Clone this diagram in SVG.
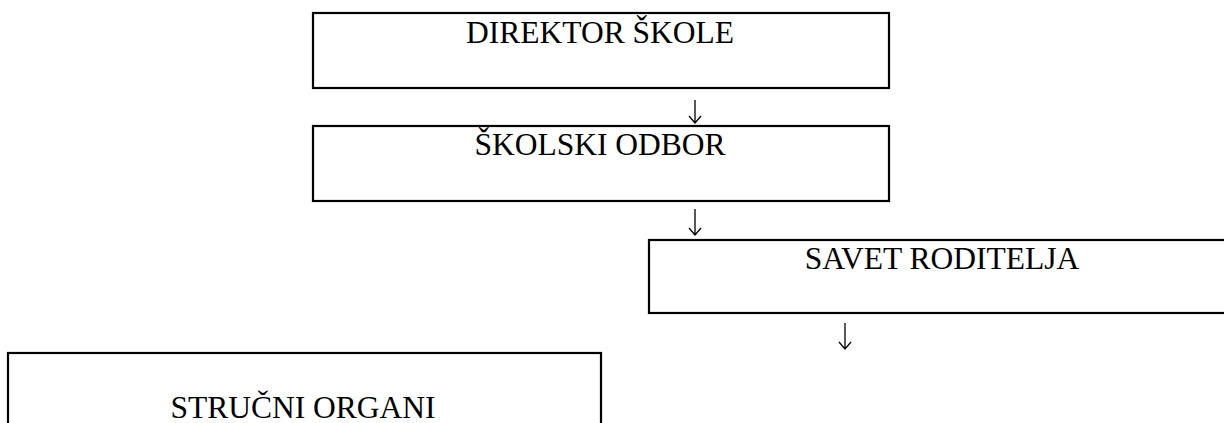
<svg xmlns="http://www.w3.org/2000/svg" width="1224" height="423" viewBox="0 0 1224 423">
<style>
.box{fill:#fff;stroke:#000;stroke-width:2.2}
.lbl{font-family:"Liberation Serif","Times New Roman",serif;font-size:31.5px;fill:#000;text-anchor:middle}
.conn{fill:none;stroke:#000;stroke-width:1.3}
</style>
<rect width="1224" height="423" fill="#fff"/>
<g id="node-direktor">
<rect class="box" x="313" y="13" width="576" height="75"/>
<text class="lbl" x="600" y="43">DIREKTOR ŠKOLE</text>
</g>
<g id="node-skolski-odbor">
<rect class="box" x="313" y="126" width="576" height="75"/>
<text class="lbl" x="600" y="155">ŠKOLSKI ODBOR</text>
</g>
<g id="node-savet-roditelja">
<rect class="box" x="649" y="240" width="590" height="73"/>
<text class="lbl" x="942" y="269">SAVET RODITELJA</text>
</g>
<g id="node-strucni-organi">
<rect class="box" x="8" y="353" width="593" height="90"/>
<text class="lbl" x="303" y="418">STRUČNI ORGANI</text>
</g>
<g id="connectors">
<path class="conn" d="M695 100 V123 M689 116 L695 123 L701 116"/>
<path class="conn" d="M695 209 V235 M689 228 L695 235 L701 228"/>
<path class="conn" d="M845 323 V349 M839 342 L845 349 L851 342"/>
</g>
</svg>
